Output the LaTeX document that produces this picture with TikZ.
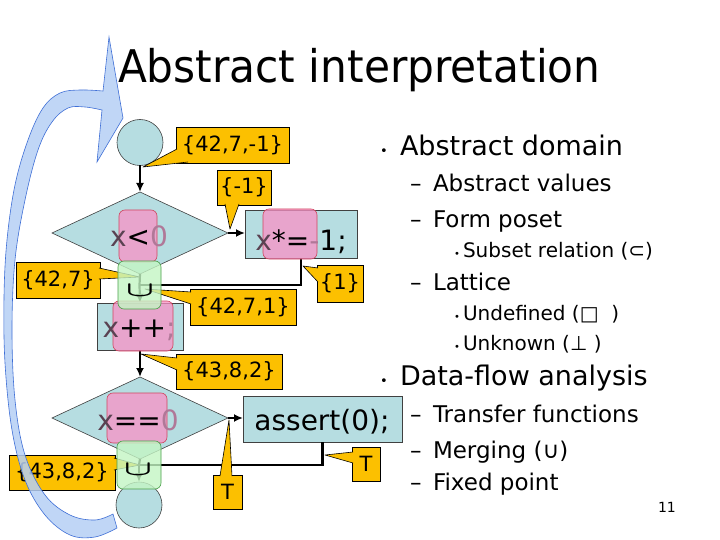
\documentclass[tikz,border=0pt]{standalone}
\usepackage{fontspec}
\setmainfont{DejaVu Sans}
\newfontfamily\titlefont[FakeStretch=0.94]{DejaVu Sans}
\usetikzlibrary{shapes.geometric,arrows.meta,calc}
\definecolor{teal0}{HTML}{B6DDE1}
\definecolor{gold}{HTML}{FCC000}
\definecolor{pinkf}{HTML}{F991C5}
\definecolor{pinkd}{HTML}{D0455F}
\definecolor{greenf}{HTML}{C4F5C4}
\definecolor{greend}{HTML}{4AA04A}
\definecolor{bluef}{HTML}{B5CFF5}
\definecolor{blued}{HTML}{3F6FD6}
\definecolor{mutex}{HTML}{5A4252}
\definecolor{mutey}{HTML}{B07898}
\newcommand\fs[1]{\fontsize{#1}{#1}\selectfont}
\newcommand\bulA{\makebox[20pt][l]{\fs{13}•}}
\newcommand\dashB{\makebox[23pt][l]{–}}
\newcommand\bulC{\makebox[9pt][l]{\fs{10}•}}
\newcommand\mx[1]{{\color{mutex}#1}}
\newcommand\my[1]{{\color{mutey}#1}}
\newcommand\mergesym{\scalebox{3.7}[2.1]{\fontsize{10}{10}\selectfont\boldmath$\cup$}}
\begin{document}
\begin{tikzpicture}[x=1pt,y=-1pt,
  every node/.style={inner sep=0pt,outer sep=0pt},
  tealshape/.style={fill=teal0,draw=black!75,line width=0.6pt},
  circ/.style={tealshape,circle,minimum size=46pt},
  dia/.style={tealshape,diamond,minimum width=176pt,minimum height=82pt},
  codebox/.style={tealshape,rectangle},
  pinkbox/.style={fill=pinkf,draw=pinkd,line width=0.6pt,rounded corners=6pt,fill opacity=0.75},
  unionbox/.style={fill=greenf,draw=greend,line width=0.6pt,rounded corners=6pt,fill opacity=0.8,minimum width=43pt,minimum height=48pt},
  uni/.style={},
  code/.style={font=\fs{28},anchor=base},
  flow/.style={line width=2.2pt,-{Latex[length=9pt,width=8pt]}},
  plain/.style={line width=2.2pt},
  callbox/.style={fill=gold,draw=black,line width=0.6pt,font=\fs{21}},
  pointer/.style={fill=gold,draw=black,line width=0.6pt,line join=round},
  lvA/.style={anchor=base west,font=\fs{27}},
  lvB/.style={anchor=base west,font=\fs{23}},
  lvC/.style={anchor=base west,font=\fs{20}}
]
\useasboundingbox[fill=white] (0,0) rectangle (720,540);

% flow chart shapes
\node[circ] (c1) at (140,142.5) {};
\node[dia] (d1) at (140,233) {};
\node[codebox,minimum width=112pt,minimum height=48pt] (b1) at (301,234) {};
\node[codebox,minimum width=86pt,minimum height=47pt] (bx) at (140,326.5) {};
\node[dia] (d2) at (140,418) {};
\node[codebox,minimum width=159pt,minimum height=46pt] (ba) at (322.5,419) {};
\node[circ] (c2) at (139,505) {};
\coordinate (u1c) at (139.5,285);
\coordinate (u2c) at (139,465);

% connectors
\draw[flow] (c1.south) -- (d1.north);
\draw[flow] (d1.east) -- (d1.east -| b1.west);
\draw[plain] (b1.south) |- (u1c);
\draw[plain] (d1.south) -- (u1c);
\draw[flow] (u1c) -- (bx.north);
\draw[flow] (bx.south) -- (d2.north);
\draw[flow] (d2.east) -- (d2.east -| ba.west);
\draw[plain] (ba.south) |- (u2c);
\draw[plain] (d2.south) -- (u2c);
\draw[flow] (u2c) -- (c2.north);

% pink overlays
\node[pinkbox,minimum width=38pt,minimum height=52pt] (p1) at (138,236) {};
\node[pinkbox,minimum width=54pt,minimum height=50pt] (p2) at (290,234) {};
\node[pinkbox,minimum width=60pt,minimum height=50pt] (p3) at (143,326) {};
\node[pinkbox,minimum width=60pt,minimum height=50pt] (p4) at (137,418) {};

% code texts
\node[code] (tx1) at (139,247) {\mx{x}<\my{0}};
\node[code] (tx2) at (301,250) {\mx{x}*=\my{-}1;};
\node[code] (tx3) at (139,337) {\mx{x}++\my{;}};
\node[code] (tx4) at (138,430) {\mx{x}==\my{0}};
\node[code] (tx5) at (322,430) {assert(0);};

% callouts
\coordinate (q1) at (143,167);
\coordinate (q2) at (230,229);
\coordinate (q3) at (140,277);
\coordinate (q4) at (145,289);
\coordinate (q5) at (303,266);
\coordinate (q6) at (141,354);
\coordinate (q7) at (140,465);
\coordinate (q8) at (229,420);
\coordinate (q9) at (325,455);

\node[callbox,minimum width=113pt,minimum height=36pt] (k1) at (232.5,145) {\{42,7,-1\}};
\node[callbox,minimum width=54pt,minimum height=35pt] (k2) at (244,187.5) {\{-1\}};
\node[callbox,minimum width=84pt,minimum height=36pt] (k3) at (58,280) {\{42,7\}};
\node[callbox,minimum width=106pt,minimum height=36pt] (k4) at (243,307) {\{42,7,1\}};
\node[callbox,minimum width=46pt,minimum height=37pt] (k5) at (340,283.5) {\{1\}};
\node[callbox,minimum width=106pt,minimum height=35pt] (k6) at (229,371.5) {\{43,8,2\}};
\node[callbox,minimum width=106pt,minimum height=35pt] (k7) at (62,472.5) {\{43,8,2\}};
\node[callbox,minimum width=29pt,minimum height=34pt] (k8) at (227.5,492) {T};
\node[callbox,minimum width=28pt,minimum height=34pt] (k9) at (366,464) {T};

\path[pointer] ($(k1.south west)+(1,-14)$) -- (q1) -- ($(k1.south west)+(12,-1)$);
\path[pointer] ($(k2.south west)+(8,-1)$) -- (q2) -- ($(k2.south west)+(22,-1)$);
\path[pointer] ($(k3.south east)+(-1,-30)$) -- (q3) -- ($(k3.south east)+(-1,-19)$);
\path[pointer] ($(k4.north west)+(1,3)$) -- (q4) -- ($(k4.north west)+(1,15)$);
\path[pointer] ($(k5.north west)+(1,3)$) -- (q5) -- ($(k5.north west)+(1,17)$);
\path[pointer] ($(k6.north west)+(1,4)$) -- (q6) -- ($(k6.north west)+(1,16)$);
\path[pointer] ($(k7.north east)+(-1,3)$) -- (q7) -- ($(k7.north east)+(-1,15)$);
\path[pointer] ($(k8.north west)+(7,1)$) -- (q8) -- ($(k8.north west)+(19,1)$);
\path[pointer] ($(k9.north west)+(1,5)$) -- (q9) -- ($(k9.north west)+(1,16)$);

% union (merge) boxes
\node[unionbox] (u1) at (u1c) {};
\node[unionbox,minimum width=44pt] (u2) at (u2c) {};
\node[uni] (s1) at (140,291) {\mergesym};
\node[uni] (s2) at (138,470) {\mergesym};

% blue loop arrow
\path[fill=bluef,draw=blued,line width=0.6pt,fill opacity=0.85]
  (109,37) -- (123,118) -- (97,162) -- (102,110)
  -- plot[smooth,tension=0.6] coordinates {(102,110) (85,107) (68,108) (52,122) (38,150) (25,200) (15,260) (12,330) (15,400) (25,455) (45,495) (70,515) (95,520) (113,514)}
  -- (117,528)
  -- plot[smooth,tension=0.6] coordinates {(117,528) (95,537) (70,535) (45,515) (25,480) (12,430) (5,363) (4,297) (7,240) (15,185) (28,140) (43,108) (60,93) (80,90) (103,91)}
  -- cycle;

% title
\node[anchor=base west,font=\titlefont\fs{45}] (title) at (118,83) {Abstract interpretation};

% bullet text
\node[lvA] (t1) at (380,156) {\bulA Abstract domain};
\node[lvB] (t2) at (410,192) {\dashB Abstract values};
\node[lvB] (t3) at (410,227) {\dashB Form poset};
\node[lvC] (t4) at (454,257) {\bulC Subset relation (⊂)};
\node[lvB] (t5) at (410,290) {\dashB Lattice};
\node[lvC] (t6) at (454,320) {\bulC Undefined ({\bfseries □}\ \ )};
\node[lvC] (t7) at (454,350) {\bulC Unknown (⊥\ )};
\node[lvA] (t8) at (380,385) {\bulA Data-flow analysis};
\node[lvB] (t9) at (410,422) {\dashB Transfer functions};
\node[lvB] (t10) at (410,458) {\dashB Merging (∪)};
\node[lvB] (t11) at (410,490) {\dashB Fixed point};
\node[anchor=base west,font=\fs{14}] (pg) at (658,512) {11};
\end{tikzpicture}
\end{document}
